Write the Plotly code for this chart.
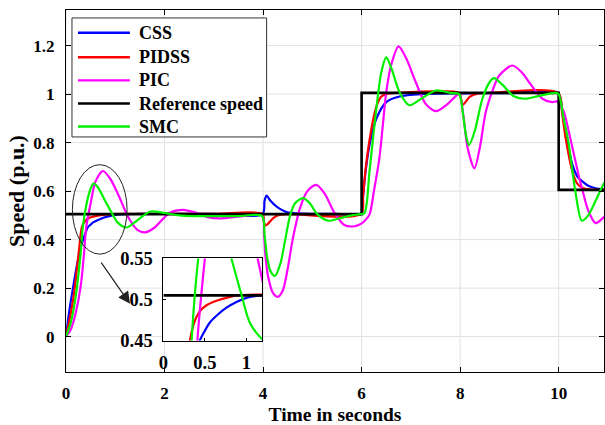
import plotly.graph_objects as go

# ---- time-domain speed responses (p.u.) ----
t_css = [0, 0.05, 0.1, 0.15, 0.2, 0.3, 0.4, 0.44, 0.5, 0.56, 0.66, 0.76, 0.88, 1.0, 1.1, 1.2, 1.5, 2.0, 3.0, 3.99,
         4.03, 4.07, 4.15, 4.27, 4.47, 4.8, 5.5, 5.99,
         6.03, 6.08, 6.16, 6.3, 6.5, 6.77, 7.2, 8.0, 9.0, 9.99,
         10.07, 10.14, 10.28, 10.38, 10.48, 10.6, 10.75, 11.0]
y_css = [0, 0.08, 0.15, 0.21, 0.27, 0.37, 0.43, 0.45, 0.462, 0.472, 0.482, 0.49, 0.497, 0.502, 0.504, 0.505, 0.506, 0.506, 0.506, 0.506,
         0.56, 0.582, 0.56, 0.537, 0.514, 0.507, 0.506, 0.506,
         0.58, 0.68, 0.79, 0.899, 0.967, 0.99, 1.0, 1.003, 1.004, 1.004,
         0.93, 0.844, 0.708, 0.66, 0.64, 0.622, 0.612, 0.606]

t_pidss = [0, 0.1, 0.15, 0.2, 0.26, 0.32, 0.36, 0.4, 0.46, 0.52, 0.6, 0.76, 0.9, 1.2, 1.5, 3.0, 3.99,
           4.02, 4.05, 4.1, 4.2, 4.3, 4.5, 5.99,
           6.03, 6.08, 6.16, 6.25, 6.32, 6.4, 6.5, 6.7, 7.98,
           8.02, 8.05, 8.1, 8.2, 8.35, 8.6, 9.99,
           10.07, 10.14, 10.28, 10.38, 10.5, 10.7, 11.0]
y_pidss = [0, 0.1, 0.16, 0.24, 0.35, 0.45, 0.468, 0.479, 0.488, 0.493, 0.497, 0.502, 0.505, 0.506, 0.506, 0.506, 0.506,
           0.47, 0.459, 0.465, 0.488, 0.5, 0.505, 0.506,
           0.58, 0.69, 0.81, 0.91, 0.96, 0.99, 1.0, 1.005, 1.005,
           0.98, 0.955, 0.965, 0.99, 1.002, 1.005, 1.005,
           0.92, 0.82, 0.68, 0.63, 0.612, 0.606, 0.605]

t_pic = [0, 0.1, 0.2, 0.3, 0.36, 0.41, 0.5, 0.6, 0.75, 0.9, 1.05, 1.2, 1.3, 1.45, 1.6, 1.8, 2.1,
         2.38, 2.65, 2.9, 3.12, 3.5, 3.98,
         4.02, 4.05, 4.1, 4.2, 4.3, 4.4, 4.5, 4.6, 4.75, 4.9, 5.08, 5.25, 5.45, 5.65, 5.86, 5.96,
         6.05, 6.16, 6.25, 6.36, 6.43, 6.5, 6.6, 6.75, 6.9, 7.1, 7.3, 7.51, 7.75, 7.98,
         8.06, 8.15, 8.29, 8.4, 8.52, 8.65, 8.79, 9.06, 9.25, 9.4, 9.67, 9.87, 9.97,
         10.1, 10.2, 10.3, 10.4, 10.5, 10.6, 10.75, 10.9, 11.0]
y_pic = [0, 0.03, 0.1, 0.21, 0.33, 0.45, 0.55, 0.64, 0.683, 0.65, 0.59, 0.52, 0.48, 0.44, 0.43, 0.45, 0.51,
         0.523, 0.51, 0.492, 0.488, 0.495, 0.5,
         0.42, 0.33, 0.25, 0.18, 0.164, 0.19, 0.28, 0.4, 0.53, 0.6, 0.626, 0.59, 0.51, 0.46, 0.455, 0.462,
         0.475, 0.503, 0.6, 0.735, 0.87, 1.008, 1.12, 1.197, 1.15, 1.049, 0.96, 0.93, 0.96, 1.0,
         0.92, 0.78, 0.694, 0.78, 0.926, 1.01, 1.076, 1.118, 1.09, 1.049, 0.981, 0.967, 0.97,
         0.93, 0.85, 0.76, 0.67, 0.59, 0.52, 0.468, 0.49, 0.51]

t_smc = [0, 0.1, 0.2, 0.3, 0.34, 0.42, 0.5, 0.56, 0.65, 0.82, 0.94, 1.05, 1.23, 1.45, 1.71, 2.0,
         2.3, 2.6, 3.0, 3.5, 3.98,
         4.03, 4.08, 4.15, 4.24, 4.35, 4.45, 4.55, 4.65, 4.81, 4.95, 5.1, 5.32, 5.55, 5.8, 5.98,
         6.06, 6.16, 6.26, 6.4, 6.5, 6.6, 6.77, 6.97, 7.2, 7.51, 7.8, 7.98,
         8.05, 8.12, 8.18, 8.3, 8.45, 8.6, 8.69, 8.85, 9.1, 9.33, 9.6, 9.94, 10.0,
         10.1, 10.2, 10.33, 10.47, 10.6, 10.75, 10.92, 11.0]
y_smc = [0, 0.06, 0.17, 0.35, 0.45, 0.55, 0.61, 0.632, 0.615, 0.55, 0.506, 0.47, 0.45, 0.48, 0.516, 0.51,
         0.5, 0.497, 0.497, 0.497, 0.497,
         0.42, 0.33, 0.27, 0.25, 0.3, 0.4, 0.5, 0.55, 0.571, 0.55, 0.505, 0.478, 0.488, 0.5, 0.505,
         0.51, 0.68, 0.87, 1.09, 1.152, 1.11, 1.008, 0.954, 0.98, 1.015, 1.005, 1.0,
         0.93, 0.83, 0.79, 0.85, 0.98, 1.05, 1.066, 1.04, 0.99, 0.981, 0.993, 1.005, 1.0,
         0.9, 0.8, 0.61, 0.478, 0.5, 0.56, 0.632, 0.65]

# reference speed profile (step changes)
t_ref = [0, 6, 10, 11]
y_ref = [0.505, 1.005, 0.605, 0.605]

series = [
    ("CSS", t_css, y_css, "#0000ff"),
    ("PIDSS", t_pidss, y_pidss, "#ff0000"),
    ("PIC", t_pic, y_pic, "#ff00ff"),
    ("Reference speed", t_ref, y_ref, "#000000"),
    ("SMC", t_smc, y_smc, "#00f000"),
]

x_ticks = [0, 2, 4, 6, 8, 10]
y_ticks = [0, 0.2, 0.4, 0.6, 0.8, 1, 1.2]
inset_x_ticks = [0, 0.5, 1]
inset_y_ticks = [0.45, 0.5, 0.55]

FONT = "Liberation Serif, Times New Roman, serif"
GRID = "#e1e1e1"


def line_style(name, col):
    if name == "Reference speed":
        return dict(color=col, width=2.6, shape="hv")
    return dict(color=col, width=2.2, shape="spline", smoothing=0.8)


fig = go.Figure()

for xaxis, yaxis in (("x", "y"), ("x2", "y2")):
    for name, t, y, col in series:
        fig.add_trace(go.Scatter(
            x=t, y=y, name=name, mode="lines", showlegend=False,
            xaxis=xaxis, yaxis=yaxis, line=line_style(name, col), hoverinfo="skip",
        ))

axis_common = dict(
    showline=True, linecolor="black", linewidth=1, mirror="ticks",
    ticks="inside", ticklen=5, tickcolor="black",
    showgrid=False, zeroline=False,
    tickfont=dict(family=FONT, size=17, color="black", weight="bold"),
)
inset_axis = dict(
    showline=True, linecolor="black", linewidth=1, mirror=True,
    ticks="inside", ticklen=3, tickcolor="black", showgrid=False, zeroline=False,
    tickfont=dict(family=FONT, size=18.5, color="black", weight="bold"),
)

fig.update_layout(
    width=605, height=425,
    margin=dict(l=66, r=0, t=7, b=53),
    paper_bgcolor="white", plot_bgcolor="white",
    showlegend=False,
    xaxis=dict(range=[0, 10.92], tickvals=x_ticks, domain=[0, 1], ticklabelstandoff=6,
               title=dict(text="Time in seconds", standoff=4,
                          font=dict(family=FONT, size=19.5, color="black", weight="bold")),
               **axis_common),
    yaxis=dict(range=[-0.146, 1.347], tickvals=y_ticks, domain=[0, 1],
               ticklabelstandoff=7,
               title=dict(text="Speed (p.u.)", standoff=2,
                          font=dict(family=FONT, size=22, color="black", weight="bold")),
               **axis_common),
    xaxis2=dict(anchor="y2", domain=[0.181, 0.3646], range=[0, 1.19],
                tickvals=inset_x_ticks, ticktext=["0", "0.5", "1"], ticklabelstandoff=5,
                **inset_axis),
    yaxis2=dict(anchor="x2", domain=[0.087, 0.3137], range=[0.45, 0.55],
                tickvals=inset_y_ticks, ticktext=["0.45", "0.5", "0.55"], ticklabelstandoff=6,
                **inset_axis),
)

shapes = []
# main grid
for gx in x_ticks:
    shapes.append(dict(type="line", xref="x", yref="y domain", x0=gx, x1=gx, y0=0, y1=1,
                       line=dict(color=GRID, width=1), layer="below"))
for gy in y_ticks:
    shapes.append(dict(type="line", xref="x domain", yref="y", x0=0, x1=1, y0=gy, y1=gy,
                       line=dict(color=GRID, width=1), layer="below"))
# inset panel: white background and its own grid
shapes.append(dict(type="rect", xref="x2 domain", yref="y2 domain", x0=0, x1=1, y0=0, y1=1,
                   fillcolor="white", line=dict(width=0), layer="below"))
for gx in [0.5, 1.0]:
    shapes.append(dict(type="line", xref="x2", yref="y2 domain", x0=gx, x1=gx, y0=0, y1=1,
                       line=dict(color=GRID, width=1), layer="below"))
shapes.append(dict(type="line", xref="x2 domain", yref="y2", x0=0, x1=1, y0=0.5, y1=0.5,
                   line=dict(color=GRID, width=1), layer="below"))
# ellipse marking the zoomed start-up region
shapes.append(dict(type="circle", xref="x", yref="y", x0=0.13, x1=1.24, y0=0.34, y1=0.709,
                   line=dict(color="#222222", width=1), layer="above"))

# legend box with line samples
LEG_X0, LEG_X1, LEG_Y0, LEG_Y1 = 0.0111, 0.3729, 0.6493, 0.978
SAMPLE_X0, SAMPLE_X1, TEXT_X = 0.0223, 0.1187, 0.1317
row_y = [0.937, 0.8693, 0.8055, 0.7416, 0.6781]
shapes.append(dict(type="rect", xref="paper", yref="paper", x0=LEG_X0, x1=LEG_X1,
                   y0=LEG_Y0, y1=LEG_Y1, fillcolor="white",
                   line=dict(color="#333333", width=1), layer="above"))
for (name, _, _, col), ry in zip(series, row_y):
    shapes.append(dict(type="line", xref="paper", yref="paper", x0=SAMPLE_X0, x1=SAMPLE_X1,
                       y0=ry, y1=ry, line=dict(color=col, width=2.4), layer="above"))
    fig.add_annotation(x=TEXT_X, y=ry, xref="paper", yref="paper", text=name,
                       showarrow=False, xanchor="left", yanchor="middle",
                       font=dict(family=FONT, size=18, color="black", weight="bold"))

fig.update_layout(shapes=shapes)

fig.add_annotation(x=1.30, y=0.135, ax=0.694, ay=0.311, xref="x", yref="y",
                   axref="x", ayref="y", text="", showarrow=True,
                   arrowhead=2, arrowsize=2.0, arrowwidth=1.2, arrowcolor="#222222")

fig.write_html("out.html")
